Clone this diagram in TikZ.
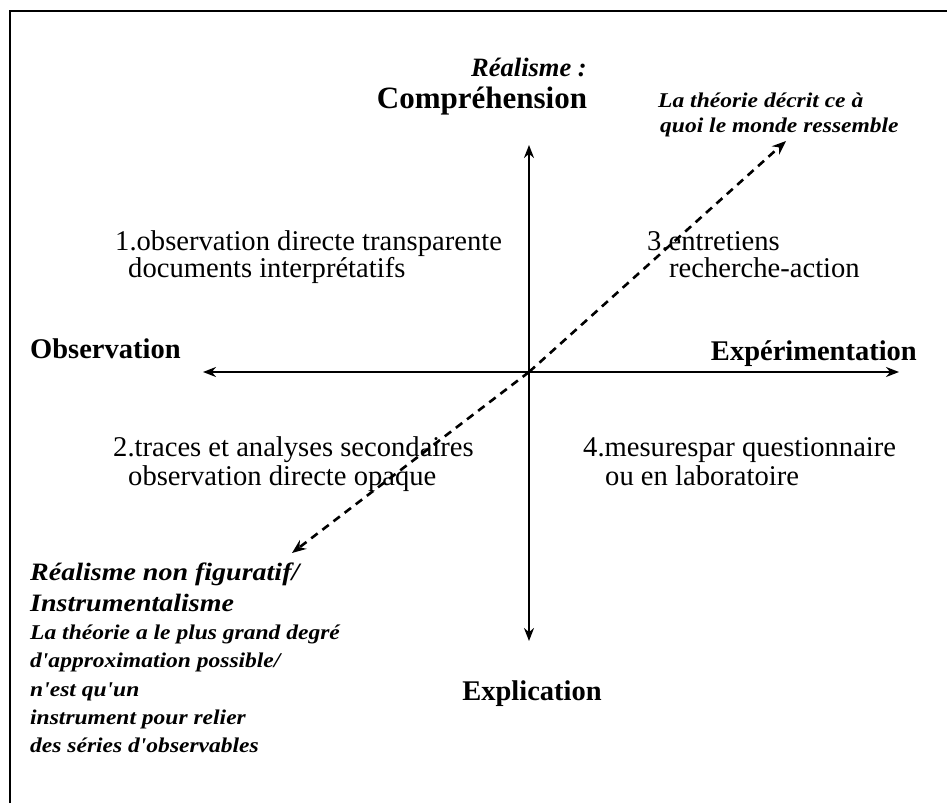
\documentclass[tikz,border=0pt]{standalone}
\usepackage{fontspec}
\setmainfont{Liberation Serif}
\newfontfamily\widefont[FakeStretch=1.12]{Liberation Serif}
\usetikzlibrary{arrows.meta}
\begin{document}
\begin{tikzpicture}[x=1pt,y=-1pt,
  axis/.style={line width=2.6pt,{Stealth[length=13pt,width=10pt]}-{Stealth[length=13pt,width=10pt]}},
  dasharrow/.style={line width=2.6pt,dash pattern=on 8pt off 6pt,-{Stealth[length=14pt,width=11pt]}},
  frame/.style={line width=2.4pt},
  lab/.style={inner sep=0pt,font=\fontsize{28.5}{30}\selectfont\bfseries},
  item/.style={inner sep=0pt,anchor=base west,font=\fontsize{28.6}{30}\selectfont},
  note/.style={inner sep=0pt,anchor=base west,font=\widefont\fontsize{21}{24}\selectfont\bfseries\itshape},
  bigit/.style={inner sep=0pt,anchor=base west,font=\widefont\fontsize{25}{28}\selectfont\bfseries\itshape}]
\useasboundingbox (0,0) rectangle (947,803);
% frame
\coordinate (fbl) at (10,803);
\coordinate (ftl) at (10,11);
\coordinate (ftr) at (947,11);
\draw[frame] (fbl) -- (ftl) -- (ftr);
% axes
\coordinate (O) at (529,372);
\coordinate (top) at (529,145);
\coordinate (bot) at (529,641);
\coordinate (left) at (203,372);
\coordinate (right) at (899,372);
\draw[axis] (top) -- (bot);
\draw[axis] (left) -- (right);
\coordinate (ur) at (786,141);
\coordinate (ll) at (292,553);
\draw[dasharrow] (O) -- (ur);
\draw[dasharrow] (O) -- (ll);
% axis labels
\node[lab,anchor=base,font=\fontsize{26.5}{30}\selectfont\bfseries\itshape] (real) at (529,76) {Réalisme :};
\node[lab,anchor=base,font=\fontsize{31}{33}\selectfont\bfseries] (compr) at (482,108) {Compréhension};
\node[lab,anchor=base west] (obs) at (30,358) {Observation};
\node[lab,anchor=base east] (exp) at (917,360) {Expérimentation};
\node[lab,anchor=base] (expl) at (532,700) {Explication};
% quadrant items
\node[item] (q1a) at (115,250) {1.observation directe transparente};
\node[item] (q1b) at (128,277) {documents interprétatifs};
\node[item] (q3a) at (647,250) {3.entretiens};
\node[item] (q3b) at (669,277) {recherche-action};
\node[item] (q2a) at (113,456) {2.traces et analyses secondaires};
\node[item] (q2b) at (128,485) {observation directe opaque};
\node[item] (q4a) at (583,456) {4.mesurespar questionnaire};
\node[item] (q4b) at (605,485) {ou en laboratoire};
% notes
\node[note] (n1) at (658,107) {La théorie décrit ce à};
\node[note] (n2) at (660,132) {quoi le monde ressemble};
\node[bigit] (b1) at (30,580) {Réalisme non figuratif/};
\node[bigit] (b2) at (30,611) {Instrumentalisme};
\node[note] (s1) at (30,639) {La théorie a le plus grand degré};
\node[note] (s2) at (30,667) {d'approximation possible/};
\node[note] (s3) at (30,696) {n'est qu'un};
\node[note] (s4) at (30,724) {instrument pour relier};
\node[note] (s5) at (30,752) {des séries d'observables};
\end{tikzpicture}
\end{document}
